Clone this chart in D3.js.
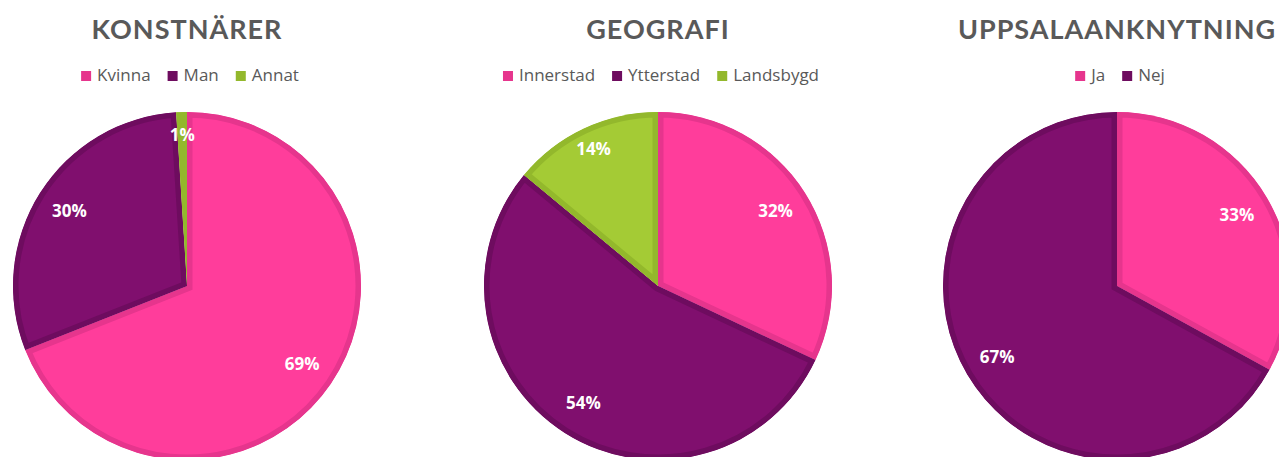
<!DOCTYPE html>
<html>
<head>
<meta charset="utf-8">
<script src="https://cdn.jsdelivr.net/npm/d3@7"></script>
<style>
  body { margin: 0; background: #fff; overflow: hidden; }
  svg { display: block; }
  .title { font-family: Lato, "Open Sans", sans-serif; font-weight: 700; fill: #595959; }
  .legend text { font-family: "Open Sans", sans-serif; fill: #595959; }
  .lbl { font-family: "Open Sans", sans-serif; font-weight: 700; fill: #fff; }
</style>
</head>
<body>
<svg id="chart" width="1279" height="457"></svg>
<script>
// data
const titles = ['KONSTNÄRER', 'GEOGRAFI', 'UPPSALAANKNYTNING'];

const konstnarerCats = ['Kvinna', 'Man', 'Annat'];
const konstnarerVals = [69, 30, 1];

const geografiCats = ['Innerstad', 'Ytterstad', 'Landsbygd'];
const geografiVals = [32, 54, 14];

const uppsalaCats = ['Ja', 'Nej'];
const uppsalaVals = [33, 67];

const fills   = ['#ff3d9b', '#800f6e', '#a4cb35'];
const borders = ['#e6358d', '#6e0c5f', '#93b82c'];

const charts = [
  { title: titles[0], cats: konstnarerCats, vals: konstnarerVals, cx: 187 },
  { title: titles[1], cats: geografiCats, vals: geografiVals, cx: 658 },
  { title: titles[2], cats: uppsalaCats, vals: uppsalaVals, cx: 1117 }
];

const svg = d3.select('#chart');
const defs = svg.append('defs');
const R = 174, cy = 286;

const pie = d3.pie().sort(null).value(d => d.v);
const arc = d3.arc().innerRadius(0).outerRadius(R);

charts.forEach((c, ci) => {
  const g = svg.append('g');

  g.append('text')
    .attr('class', 'title')
    .attr('x', c.cx)
    .attr('y', 39)
    .attr('text-anchor', 'middle')
    .attr('font-size', 27)
    .attr('letter-spacing', 1)
    .text(c.title);

  // legend, centred over the pie
  const leg = g.append('g').attr('class', 'legend');
  let x = 0;
  c.cats.forEach((name, i) => {
    const it = leg.append('g').attr('transform', `translate(${x},0)`);
    it.append('rect').attr('x', 0).attr('y', -10).attr('width', 10).attr('height', 10).attr('fill', borders[i]);
    const t = it.append('text').attr('x', 16).attr('y', 0).attr('font-size', 17).text(name);
    x += 16 + t.node().getComputedTextLength() + 17;
  });
  const legW = x - 17;
  leg.attr('transform', `translate(${c.cx + 3 - legW / 2},81)`);

  const data = c.cats.map((name, i) => ({ name, v: c.vals[i], i }));
  const arcs = pie(data);
  const pg = g.append('g').attr('transform', `translate(${c.cx},${cy})`);

  // each slice: fill plus a darker inner edge (stroke clipped to the slice)
  arcs.forEach((d, i) => {
    const id = `clip-${ci}-${i}`;
    defs.append('clipPath').attr('id', id).append('path').attr('d', arc(d));
    pg.append('path')
      .attr('d', arc(d))
      .attr('fill', fills[d.data.i])
      .attr('stroke', borders[d.data.i])
      .attr('stroke-width', 11)
      .attr('clip-path', `url(#${id})`);
  });

  pg.selectAll('text.lbl').data(arcs).enter().append('text')
    .attr('class', 'lbl')
    .attr('font-size', 17)
    .attr('text-anchor', 'middle')
    .attr('dy', '0.35em')
    .attr('transform', d => {
      const k = d.data.v < 20 ? 0.87 : 0.8;
      const [lx, ly] = d3.arc().innerRadius(0).outerRadius(2 * R * k).centroid(d);
      return `translate(${lx},${ly})`;
    })
    .text(d => d.data.v + '%');
});
</script>
</body>
</html>
